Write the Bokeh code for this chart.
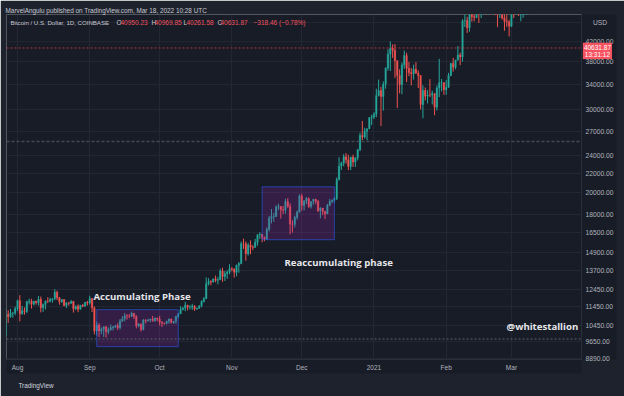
import numpy as np
import pandas as pd
from bokeh.plotting import figure
from bokeh.models import (Range1d, FixedTicker, NumeralTickFormatter, Span, Label,
                          ColumnDataSource)
from bokeh.embed import file_html
from bokeh.resources import INLINE

# ---------------- data (BTC/USD daily, Coinbase) ----------------
first_date = "2020-07-27"
first_open = 9930
highs = [11400, 11260, 11340, 11170, 11460,
         11860, 12120, 11490, 11420, 11790, 11910, 11910, 11800, 11800, 12070,
         12040, 11640, 11800, 12000, 11970, 11940, 12480, 12390, 12020, 11880,
         11880, 11690, 11720, 11830, 11770, 11530, 11590, 11550, 11600, 11720, 11780,
         12090, 11950, 11470, 10650, 10570, 10350, 10400, 10430, 10350, 10500,
         10410, 10480, 10570, 10780, 10940, 11100, 11040, 11050, 11180, 11090,
         10990, 10570, 10540, 10780, 10770, 10800, 10800, 10950, 10860, 10850,
         10950, 10670, 10600, 10690, 10800, 10800, 10680, 10960, 11110, 11490,
         11440, 11730, 11560, 11550, 11620, 11540, 11400, 11520, 11820, 12010,
         13220, 13170, 13030, 13160, 13340, 13250, 13800, 13860, 13640, 13680, 14100,
         13900, 13830, 14070, 14250, 15760, 15980, 15770, 15660, 15850, 15480,
         15970, 16350, 16490, 16330, 16150, 16880, 17860, 18480, 18130, 18820,
         18960, 18750, 18770, 19420, 19490, 19010, 17470, 17880, 18350, 19850,
         19920, 19300, 19600, 19540, 19180, 19420, 19430, 19300, 18640, 18570,
         18280, 18950, 19420, 19350, 19570, 21560, 23800, 23290, 24170, 24290,
         24100, 23840, 24100, 23800, 24790, 26870, 28420, 27500, 27400, 28990, 29300,
         29680, 33300, 34810, 33600, 34500, 36940, 40370, 41950, 41350, 41420,
         38250, 36600, 37850, 40100, 39700, 37950, 36850, 37450, 37900, 36400,
         35600, 33860, 33480, 33090, 34880, 32960, 32570, 33800, 38530, 34900, 34330,
         34720, 35970, 37800, 38700, 38340, 40990, 39700, 46750, 48200, 47330,
         48660, 48950, 48090, 49700, 49000, 50600, 52620, 52530, 56350, 57490,
         58350, 57410, 54180, 51370, 52050, 48400, 48400, 46630,
         49800, 50200, 52650, 51800, 49450, 49200, 51450, 52400]
lows = [9900, 10580, 10850, 10850, 10990,
        11220, 10660, 11010, 11020, 11100, 11580, 11350, 11530, 11570, 11520,
        11140, 11170, 11300, 11660, 11700, 11680, 11820, 11830, 11570, 11670,
        11480, 11380, 11520, 11600, 11130, 11260, 11150, 11290, 11430, 11470, 11530,
        11570, 11160, 10000, 9950, 9880, 10010, 9880, 9850, 10010, 10190,
        10200, 10310, 10220, 10250, 10630, 10670, 10750, 10830, 10890, 10780,
        10300, 10360, 10140, 10200, 10560, 10650, 10620, 10640, 10640, 10670,
        10450, 10370, 10490, 10510, 10540, 10550, 10540, 10530, 10830, 11060,
        11250, 11200, 11250, 11300, 11270, 11220, 11300, 11350, 11420, 11690,
        11900, 12710, 12720, 12890, 12910, 12780, 13050, 12930, 12990, 13130, 13430,
        13620, 13210, 13300, 13530, 14100, 15200, 14350, 14710, 14810, 15100,
        15290, 15440, 15960, 15700, 15780, 15870, 16560, 17220, 17360, 17760,
        18370, 17640, 18030, 18060, 18580, 16330, 16460, 16880, 17550, 18180,
        18320, 18350, 18930, 18580, 18520, 18880, 18910, 18210, 17650, 17930,
        17580, 18020, 18730, 19000, 19060, 19300, 21240, 22370, 22770, 23070,
        22350, 22360, 22700, 22700, 23440, 24520, 25880, 26100, 25850, 27320, 27850,
        28690, 28950, 32050, 27730, 29900, 33290, 36360, 36300, 38720, 35100,
        30300, 32530, 32400, 36700, 34400, 35400, 33850, 34800, 35880, 33400,
        30070, 28800, 31430, 30970, 31950, 30830, 29240, 29930, 31950, 32860, 32300,
        32310, 33430, 35380, 36190, 36600, 38220, 37360, 37990, 45000, 43720,
        43990, 46210, 46270, 47040, 45900, 47060, 48960, 50880, 50720, 53900,
        55500, 47700, 45000, 47050, 46700, 44200, 45050, 43000,
        45000, 47050, 48150, 47500, 46300, 47100, 48880, 49300]
closes = [11030, 10920, 11100, 11110, 11350,
          11800, 11070, 11230, 11190, 11740, 11770, 11600, 11760, 11680, 11880,
          11400, 11580, 11780, 11770, 11860, 11910, 12300, 11960, 11740, 11870,
          11520, 11680, 11650, 11760, 11340, 11470, 11320, 11540, 11480, 11710, 11660,
          11930, 11390, 10170, 10470, 10170, 10260, 10380, 10130, 10230, 10340,
          10390, 10440, 10330, 10680, 10790, 10960, 10940, 10930, 11090, 10920,
          10420, 10530, 10240, 10740, 10690, 10730, 10780, 10700, 10840, 10780,
          10620, 10570, 10550, 10670, 10790, 10600, 10670, 10920, 11060, 11300,
          11380, 11540, 11430, 11430, 11500, 11320, 11370, 11510, 11750, 11910,
          12820, 12980, 12930, 13120, 13040, 13070, 13650, 13280, 13460, 13560, 13800,
          13760, 13560, 14030, 14150, 15590, 15580, 14840, 15480, 15330, 15310,
          15700, 16280, 16320, 16070, 15960, 16730, 17660, 17800, 17820, 18670,
          18710, 18420, 18370, 19160, 18730, 17160, 17140, 17730, 18180, 19700,
          18800, 19220, 19450, 18700, 19160, 19380, 19190, 18330, 18560, 18260,
          18040, 18810, 19170, 19280, 19440, 21350, 22800, 23140, 23860, 23480,
          22740, 23820, 23250, 23730, 24690, 26490, 26280, 27040, 27370, 28880, 28990,
          29400, 32200, 33000, 32030, 34030, 36820, 39430, 40580, 40150, 38180,
          35500, 33970, 37390, 39150, 36770, 36010, 35790, 36630, 35910, 35510,
          30810, 33010, 32100, 32290, 32260, 32500, 30410, 33410, 34260, 34300, 33110,
          33530, 35510, 37670, 36960, 38290, 39260, 38890, 46440, 46500, 44850,
          47970, 47360, 47180, 48590, 47930, 49160, 52150, 51680, 55890, 55830,
          57410, 54130, 48900, 49700, 47060, 46300, 46160, 45200,
          49600, 48440, 50470, 48370, 48760, 48880, 51000, 52300]

price_ticks = [8890, 9650, 10450, 11450, 12450, 13700, 14900, 16500, 18000, 20000,
               22000, 24000, 27000, 30000, 34000, 38000, 42000, 46000]
currency_tick = 46000          # this tick's label is covered by the currency badge
currency_text = "USD"
month_dates = ["2020-08-01", "2020-09-01", "2020-10-01", "2020-11-01", "2020-12-01",
               "2021-01-01", "2021-02-01", "2021-03-01"]
month_labels = ["Aug", "Sep", "Oct", "Nov", "Dec", "2021", "Feb", "Mar"]

last_price = 40631.87
level_upper = 25720
level_lower = 9780

box1 = dict(start="2020-09-04", end="2020-10-09", low=9420, high=11290)
box2 = dict(start="2020-11-14", end="2020-12-15", low=15900, high=20600)

header_text = "MarvelAngulu published on TradingView.com, Mar 18, 2022 10:28 UTC"
legend_parts = [("Bitcoin / U.S. Dollar, 1D, COINBASE", "#c8cad3"),
                ("O", "#c8cad3"), ("40950.23", "#f0525f"),
                ("H", "#c8cad3"), ("40969.85", "#f0525f"),
                ("L", "#c8cad3"), ("40261.58", "#f0525f"),
                ("C", "#c8cad3"), ("40631.87", "#f0525f"),
                ("\u2212318.46 (\u22120.78%)", "#f0525f")]

# ---------------- positions / styles ----------------
legend_page_x = [10, 116, 120, 151, 154, 183, 186, 217, 220, 253]
legend_sizes = ["6.1px"] + ["6.5px"] * 9
phase_notes = [("Accumulating Phase", 32.6, 12030),
               ("Reaccumulating phase", 114.6, 14190),
               ("@whitestallion", 209.9, 10390)]
badge_pos = (248.9, 40050)
footer_pos = (0.4, 7795)

# ---------------- derived ----------------
origin = pd.Timestamp("2020-08-01")
dates = pd.date_range(first_date, periods=len(closes), freq="D")
xs = np.array((dates - origin).days, dtype=float)
opens = [first_open] + closes[:-1]
o = np.array(opens, float); c = np.array(closes, float)
h = np.maximum(np.array(highs, float), np.maximum(o, c))
l = np.minimum(np.array(lows, float), np.minimum(o, c))
UP, DOWN = "#26a69a", "#ef5350"
colors = [UP if cc >= oo else DOWN for oo, cc in zip(o, c)]
src = ColumnDataSource(dict(x=xs, high=h, low=l, top=np.maximum(o, c),
                            bottom=np.minimum(o, c), color=colors))

def dx(s):
    return float((pd.Timestamp(s) - origin).days)

month_x = [int(dx(s)) for s in month_dates]

CHART_BG = "#181c27"
OUTER_BG = "#1e222d"
GRID = "#232733"
TXT = "#b2b5be"
FRAME_LEFT, FRAME_BOTTOM = 6, 360

p = figure(width=624, height=396, output_backend="svg", toolbar_location=None,
           y_axis_type="log", y_axis_location="right",
           x_range=Range1d(-4.72, 242.06), y_range=Range1d(8847, 47860),
           min_border_left=FRAME_LEFT, min_border_right=43, min_border_top=14,
           min_border_bottom=396 - FRAME_BOTTOM, background_fill_color=CHART_BG,
           border_fill_color=OUTER_BG, outline_line_color=None)

# header as title
p.title.text = header_text
p.title.align = "left"
p.title.offset = -1
p.title.standoff = 2
p.title.text_font = "Liberation Sans"
p.title.text_font_size = "6.4px"
p.title.text_font_style = "normal"
p.title.text_color = "#c8cad3"

# axes
ya = p.yaxis[0]
ya.ticker = FixedTicker(ticks=price_ticks)
ya.formatter = NumeralTickFormatter(format="0.00")
ya.major_label_overrides = {currency_tick: "\u00a0\u00a0\u00a0\u00a0" + currency_text}
xa = p.xaxis[0]
xa.ticker = FixedTicker(ticks=month_x)
xa.major_label_overrides = {int(k): v for k, v in zip(month_x, month_labels)}
for ax in (xa, ya):
    ax.axis_line_color = "#2a2e39"
    ax.major_tick_line_color = None
    ax.minor_tick_line_color = None
    ax.major_tick_out = 0
    ax.major_tick_in = 0
    ax.minor_tick_out = 0
    ax.major_label_text_color = TXT
    ax.major_label_text_font = "Liberation Sans"
    if "background_fill_color" in ax.properties():
        ax.background_fill_color = CHART_BG
ya.major_label_text_font_size = "6.7px"
ya.major_label_standoff = 4
xa.major_label_text_font_size = "6.5px"
xa.major_label_standoff = 4
p.xgrid.grid_line_color = GRID
p.ygrid.grid_line_color = GRID

# horizontal levels
p.add_layout(Span(location=level_upper, dimension="width", line_color="#454853",
                  line_width=1.5, line_dash="3 2"))
p.add_layout(Span(location=level_lower, dimension="width", line_color="#5d606b",
                  line_width=1, line_dash="2 2"))
p.add_layout(Span(location=last_price, dimension="width", line_color="#f23645",
                  line_alpha=0.7, line_width=1, line_dash="2 2"))

# candles
p.segment(x0="x", y0="high", x1="x", y1="low", line_color="color",
          line_width=1, source=src)
p.vbar(x="x", width=0.62, top="top", bottom="bottom", fill_color="color",
       line_color="color", line_width=0.4, source=src)

# phase boxes
for b in (box1, box2):
    p.quad(left=[dx(b["start"])], right=[dx(b["end"])],
           bottom=[b["low"]], top=[b["high"]], fill_color="#9c27b0",
           fill_alpha=0.22, line_color="#2962ff", line_alpha=0.55, line_width=1)

# annotations in data space
for txt, xd, yd in phase_notes:
    p.add_layout(Label(x=xd, y=yd, text=txt, text_baseline="middle",
                       text_font="Open Sans", text_font_size="9.6px",
                       text_font_style="bold", text_color="#e6e7eb"))

# legend line inside the chart (screen units relative to the frame)
for (t, col), px, fs in zip(legend_parts, legend_page_x, legend_sizes):
    p.add_layout(Label(x=px - FRAME_LEFT, y=FRAME_BOTTOM - 23, x_units="screen",
                       y_units="screen", text=t, text_font="Liberation Sans",
                       text_font_size=fs, text_color=col,
                       text_baseline="middle"))

# price badge and footer (below panel, placed through the chart scales)
pb = Label(x=badge_pos[0], y=badge_pos[1], text="40631.87\n13:31:12",
           text_align="center", text_baseline="middle", text_font="Liberation Sans",
           text_font_size="6.5px", text_color="#ffffff",
           background_fill_color="#f7525f", text_line_height=1.05)
ft = Label(x=footer_pos[0], y=footer_pos[1], text="TradingView",
           text_baseline="middle", text_font="Liberation Sans",
           text_font_size="6.4px", text_color="#d1d4dc")
if "padding" in Label.properties():
    pb.padding = 1
p.add_layout(pb, "below")
p.add_layout(ft, "below")

open("out.html", "w").write(file_html(p, INLINE))
